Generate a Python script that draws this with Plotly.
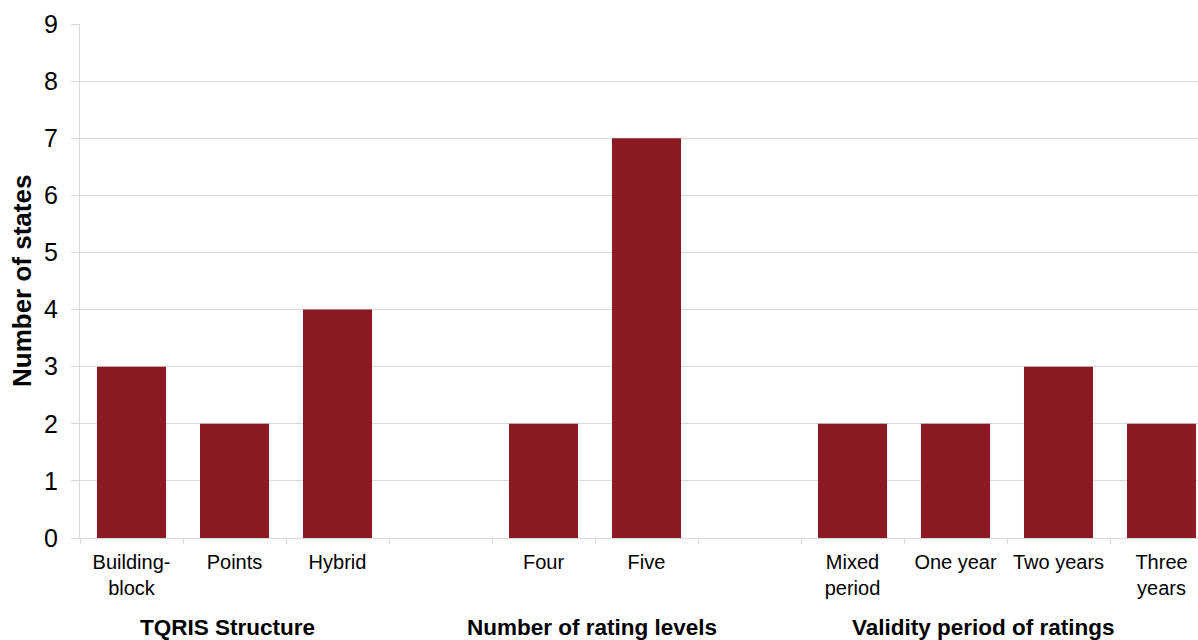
import plotly.graph_objects as go

# Category slots along the x axis; empty strings are spacer slots between groups
categories = ["Building-block", "Points", "Hybrid", "",
              "Four", "Five", "",
              "Mixed period", "One year", "Two years", "Three years"]
tick_labels = ["Building-<br>block", "Points", "Hybrid", "",
               "Four", "Five", "",
               "Mixed<br>period", "One year", "Two years", "Three<br>years"]
states = [3, 2, 4, None, 2, 7, None, 2, 2, 3, 2]

group_titles = ["TQRIS Structure", "Number of rating levels", "Validity period of ratings"]
group_title_x = [0.93, 4.47, 8.27]

BAR = "#8C1A22"
GRID = "#D9D9D9"
FONT = "Liberation Sans, Arial, sans-serif"

# unique category keys so spacer slots stay distinct
keys = [c if c else f"gap{i}" for i, c in enumerate(categories)]

fig = go.Figure(go.Bar(
    x=keys, y=states, marker=dict(color=BAR, line=dict(width=0)),
    width=0.67, hoverinfo="x+y",
))

W, H = 1198, 640
L, T, B = 80, 24, 102
plot_w = W - L
plot_h = H - T - B

fig.update_layout(
    width=W, height=H,
    margin=dict(l=L, r=0, t=T, b=B),
    paper_bgcolor="white", plot_bgcolor="white",
    font=dict(family=FONT, color="black"),
    showlegend=False,
)

fig.update_xaxes(
    type="category",
    categoryorder="array", categoryarray=keys,
    tickvals=keys, ticktext=tick_labels,
    tickson="boundaries",
    range=[-0.5, -0.5 + plot_w / 103.0],
    ticks="outside", ticklen=5, tickcolor=GRID, tickwidth=1,
    showline=True, linecolor=GRID, linewidth=1,
    showgrid=False,
    tickfont=dict(size=20, family=FONT, color="black"),
    ticklabelstandoff=6,
)

fig.update_yaxes(
    range=[0, 9], dtick=1,
    showgrid=True, gridcolor=GRID, gridwidth=1,
    zeroline=False,
    showline=True, linecolor=GRID, linewidth=1,
    ticks="outside", ticklen=8, tickcolor=GRID,
    tickfont=dict(size=25, family=FONT, color="black"),
    ticklabelstandoff=8,
)

# y-axis title
fig.add_annotation(
    text="<b>Number of states</b>", textangle=-90,
    xref="paper", yref="paper", x=-58 / plot_w, y=0.5,
    xanchor="center", yanchor="middle", showarrow=False,
    font=dict(size=26, family=FONT, color="black"),
)

# group titles under the category labels
for title, gx in zip(group_titles, group_title_x):
    fig.add_annotation(
        text=f"<b>{title}</b>", xref="x", yref="paper",
        x=gx, y=-89 / plot_h, xanchor="center", yanchor="middle",
        showarrow=False, font=dict(size=22.5, family=FONT, color="black"),
    )

fig.write_html("out.html")
